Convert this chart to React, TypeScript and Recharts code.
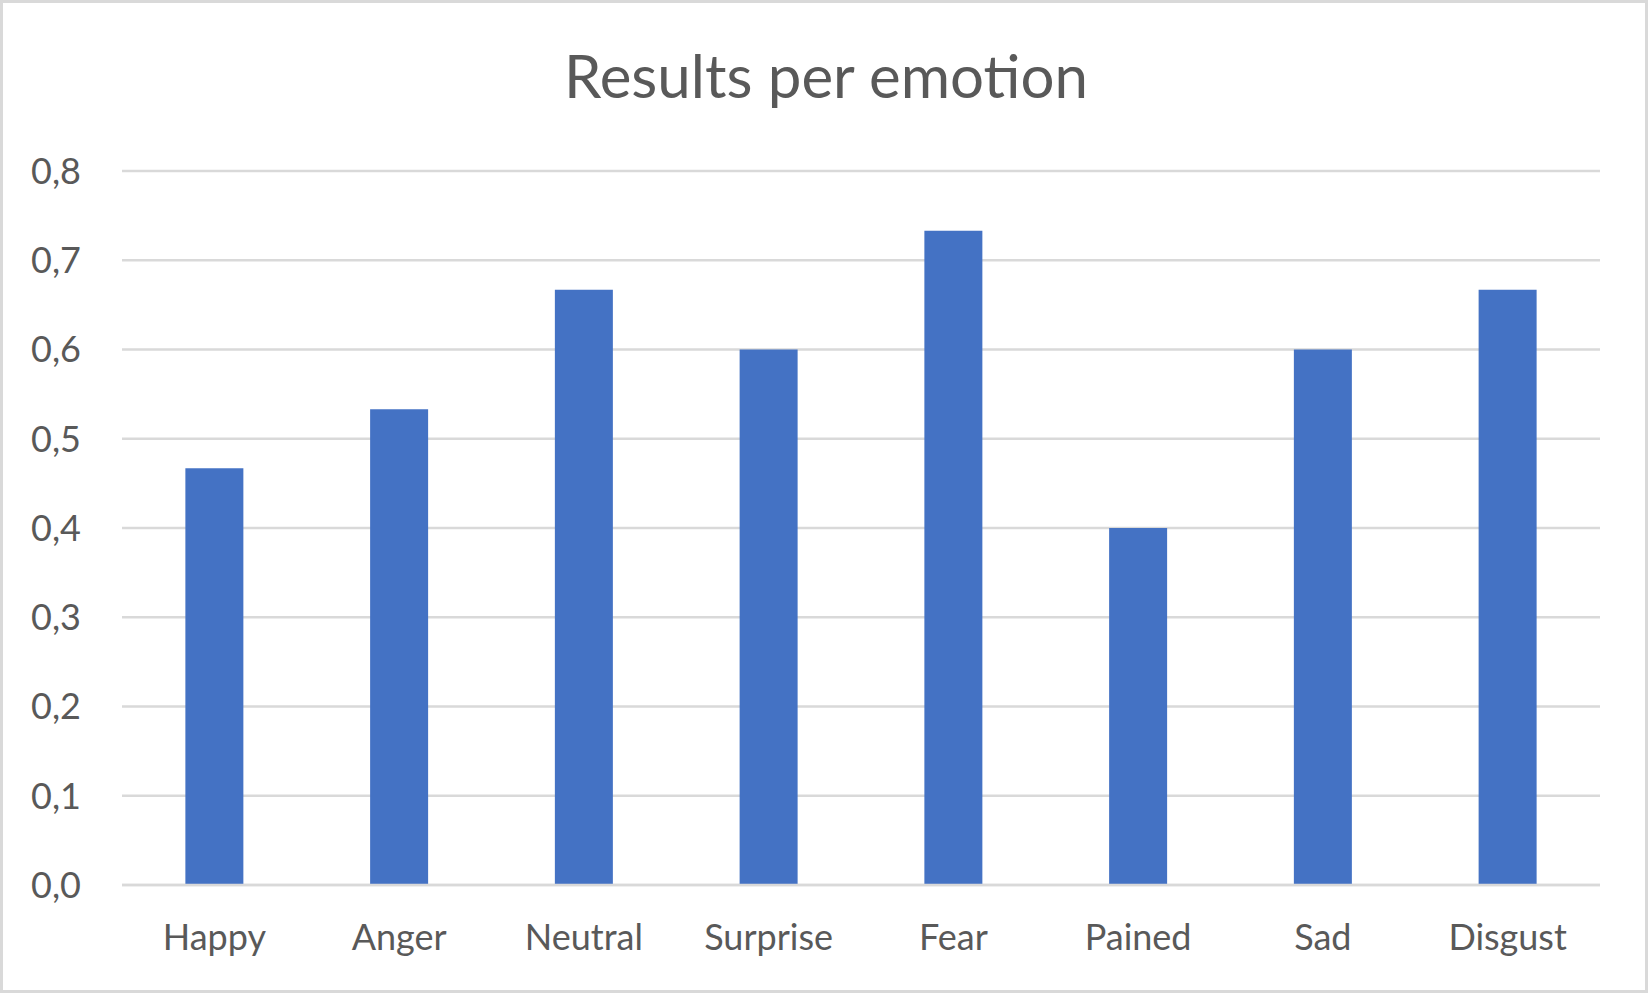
import React from "react";
import { BarChart, Bar, XAxis, YAxis, CartesianGrid } from "recharts";

const categories = ["Happy", "Anger", "Neutral", "Surprise", "Fear", "Pained", "Sad", "Disgust"];
const values = [0.467, 0.533, 0.667, 0.6, 0.733, 0.4, 0.6, 0.667];
const yTicks = [0, 0.1, 0.2, 0.3, 0.4, 0.5, 0.6, 0.7, 0.8];
const title = "Results per emotion";

const data = categories.map((name, i) => ({ name, value: values[i] }));

const FONT = "Lato, 'Open Sans', sans-serif";
const TEXT = "#595959";
const GRID = "#D9D9D9";

export default function App() {
  return (
    <div style={{ position: "absolute", left: 0, top: 0, width: 1652, height: 993, background: "#fff" }}>
      <div
        style={{
          position: "absolute",
          left: 0,
          top: 0,
          width: 1648,
          height: 993,
          boxSizing: "border-box",
          border: `3px solid ${GRID}`,
        }}
      />
      <svg style={{ position: "absolute", left: 0, top: 0 }} width={1652} height={130}>
        <text x={826} y={98} textAnchor="middle" fill={TEXT} fontFamily={FONT} fontSize={60}>
          {title}
        </text>
      </svg>
      <div style={{ position: "absolute", left: 0, top: 0 }}>
        <BarChart
          width={1652}
          height={993}
          data={data}
          margin={{ top: 171, right: 52, bottom: 0, left: 0 }}
          barCategoryGap="34.3%"
        >
          <CartesianGrid vertical={false} stroke={GRID} strokeWidth={2.5} />
          <XAxis
            dataKey="name"
            height={108}
            tickLine={false}
            tickSize={0}
            tickMargin={39}
            axisLine={{ stroke: GRID, strokeWidth: 2.5 }}
            tick={{ fill: TEXT, fontFamily: FONT, fontSize: 36 }}
            interval={0}
          />
          <YAxis
            width={122}
            domain={[0, 0.8]}
            ticks={yTicks}
            interval={0}
            axisLine={false}
            tickLine={false}
            tickSize={0}
            tickMargin={41}
            tickFormatter={(v: number) => v.toFixed(1).replace(".", ",")}
            tick={{ fill: TEXT, fontFamily: FONT, fontSize: 36 }}
          />
          <Bar dataKey="value" fill="#4472C4" isAnimationActive={false} />
        </BarChart>
      </div>
    </div>
  );
}
